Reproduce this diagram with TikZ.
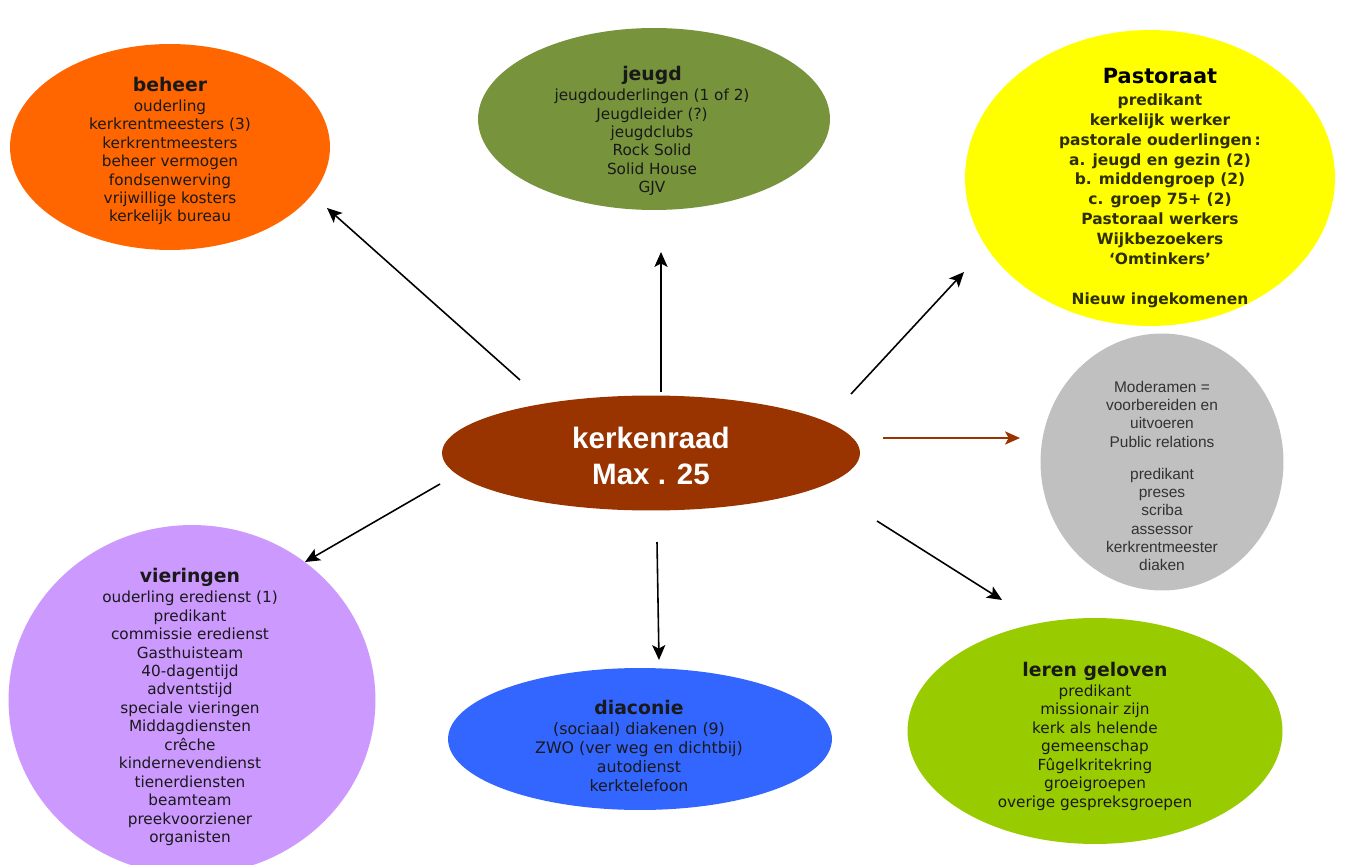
\documentclass[tikz,border=0pt]{standalone}
\usepackage{fontspec}
\setmainfont{DejaVu Sans}
\newfontfamily\arialfont{Liberation Sans}
\usetikzlibrary{shapes.geometric,arrows.meta}

\definecolor{beheerfill}{HTML}{FF6600}
\definecolor{jeugdfill}{HTML}{77933C}
\definecolor{pastoraatfill}{HTML}{FFFF00}
\definecolor{pastoraattext}{HTML}{2E2E00}
\definecolor{moderamenfill}{HTML}{C0C0C0}
\definecolor{raadfill}{HTML}{993300}
\definecolor{vieringenfill}{HTML}{CC99FF}
\definecolor{diaconiefill}{HTML}{3366FF}
\definecolor{lerenfill}{HTML}{99CC00}

\newcommand{\bubbletitle}[1]{{\fontsize{10.7}{12}\selectfont\bfseries #1}\\[1pt]}

\begin{document}
\begin{tikzpicture}[x=0.02cm,y=-0.02cm,
    bubble/.style={ellipse,inner sep=0pt},
    bubbletext/.style={align=center,text=black!90,font=\fontsize{8.7}{10.5}\selectfont},
    arr/.style={-{Stealth[length=8.5pt,width=7.5pt,inset=2pt]},line width=0.9pt}]
    \useasboundingbox (0,0) rectangle (1362,865);

    % bubbles
    \node[bubble,fill=beheerfill,minimum width=6.4cm,minimum height=4.12cm] (beheer) at (170,147) {};
    \node[bubble,fill=jeugdfill,minimum width=7.04cm,minimum height=3.64cm] (jeugd) at (654,119) {};
    \node[bubble,fill=pastoraatfill,minimum width=7.4cm,minimum height=5.92cm] (pastoraat) at (1150,178) {};
    \node[bubble,fill=moderamenfill,minimum width=4.86cm,minimum height=5.14cm] (moderamen) at (1162,462) {};
    \node[bubble,fill=raadfill,minimum width=8.36cm,minimum height=2.3cm] (kerkenraad) at (651,453) {};
    \node[bubble,fill=vieringenfill,minimum width=7.34cm,minimum height=7cm] (vieringen) at (192,700) {};
    \node[bubble,fill=diaconiefill,minimum width=7.68cm,minimum height=2.84cm] (diaconie) at (640,739) {};
    \node[bubble,fill=lerenfill,minimum width=7.5cm,minimum height=4.52cm] (leren) at (1095,731) {};

    % texts
    \node[bubbletext] (beheer text) at (170,151) {\bubbletitle{beheer}
        ouderling\\
        kerkrentmeesters (3)\\
        kerkrentmeesters\\
        beheer vermogen\\
        fondsenwerving\\
        vrijwillige kosters\\
        kerkelijk bureau};
    \node[bubbletext] (jeugd text) at (652,131) {\bubbletitle{jeugd}
        jeugdouderlingen (1 of 2)\\
        Jeugdleider (?)\\
        jeugdclubs\\
        Rock Solid\\
        Solid House\\
        GJV};
    \node[bubbletext,text=pastoraattext,font=\fontsize{8.8}{11.3}\selectfont\bfseries] (pastoraat text) at (1160,188) {%
        {\fontsize{11.9}{13}\selectfont\color{black} Pastoraat}\\[1pt]
        predikant\\
        kerkelijk werker\\
        pastorale ouderlingen\,:\\
        a. jeugd en gezin (2)\\
        b. middengroep (2)\\
        c. groep 75+ (2)\\
        Pastoraal werkers\\
        Wijkbezoekers\\
        `Omtinkers'\\[11.3pt]
        Nieuw ingekomenen};
    \node[bubbletext,text=black!80,font=\arialfont\fontsize{8.8}{10.4}\selectfont] (moderamen text) at (1162,476) {%
        Moderamen =\\
        voorbereiden en\\
        uitvoeren\\
        Public relations\\[7.8pt]
        predikant\\
        preses\\
        scriba\\
        assessor\\
        kerkrentmeester\\
        diaken};
    \node[bubbletext,text=white,font=\arialfont\fontsize{16.8}{20.4}\selectfont\bfseries] (kerkenraad text) at (651,456) {kerkenraad\\Max . 25};
    \node[bubbletext] (vieringen text) at (190,707) {\bubbletitle{vieringen}
        ouderling eredienst (1)\\
        predikant\\
        commissie eredienst\\
        Gasthuisteam\\
        40-dagentijd\\
        adventstijd\\
        speciale vieringen\\
        Middagdiensten\\
        crêche\\
        kindernevendienst\\
        tienerdiensten\\
        beamteam\\
        preekvoorziener\\
        organisten};
    \node[bubbletext,font=\fontsize{9}{10.8}\selectfont] (diaconie text) at (639,746) {\bubbletitle{diaconie}
        (sociaal) diakenen (9)\\
        ZWO (ver weg en dichtbij)\\
        autodienst\\
        kerktelefoon};
    \node[bubbletext] (leren text) at (1095,736) {\bubbletitle{leren geloven}
        predikant\\
        missionair zijn\\
        kerk als helende\\
        gemeenschap\\
        Fûgelkritekring\\
        groeigroepen\\
        overige gespreksgroepen};

    % arrow ends
    \coordinate (beheer from) at (520,380);
    \coordinate (beheer to) at (327,208);
    \coordinate (jeugd from) at (661,392);
    \coordinate (jeugd to) at (661,252);
    \coordinate (pastoraat from) at (851,394);
    \coordinate (pastoraat to) at (964,272);
    \coordinate (moderamen from) at (883,438);
    \coordinate (moderamen to) at (1020,438);
    \coordinate (leren from) at (877,521);
    \coordinate (leren to) at (1002,600);
    \coordinate (diaconie from) at (657,542);
    \coordinate (diaconie to) at (659,660);
    \coordinate (vieringen from) at (440,484);
    \coordinate (vieringen to) at (305,562);

    \draw[arr] (beheer from) -- (beheer to);
    \draw[arr] (jeugd from) -- (jeugd to);
    \draw[arr] (pastoraat from) -- (pastoraat to);
    \draw[arr,draw=raadfill,fill=raadfill] (moderamen from) -- (moderamen to);
    \draw[arr] (leren from) -- (leren to);
    \draw[arr] (diaconie from) -- (diaconie to);
    \draw[arr] (vieringen from) -- (vieringen to);

\end{tikzpicture}
\end{document}
